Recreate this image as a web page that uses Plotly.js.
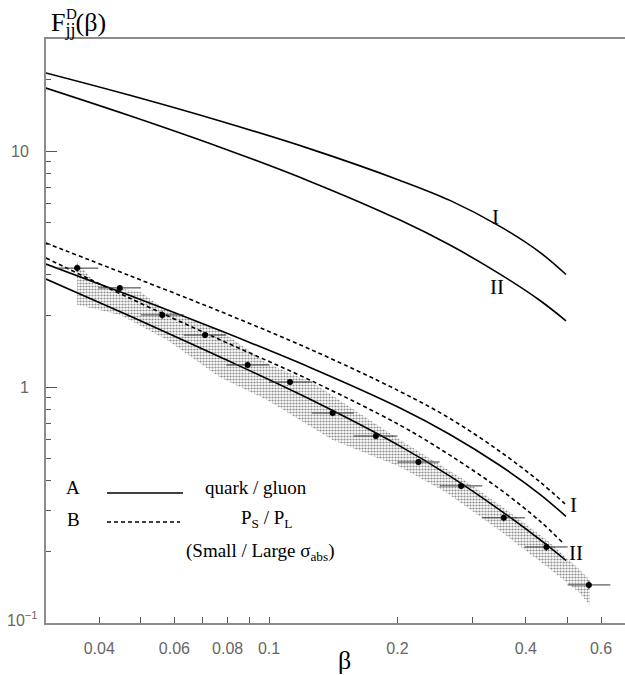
<!DOCTYPE html>
<html><head><meta charset="utf-8">
<script src="https://cdn.plot.ly/plotly-3.0.1.min.js"></script>
<style>body{margin:0;background:#fff}</style>
</head><body><div id="chart" style="width:625px;height:675px"></div>
<script>
// ---- data ----
const curveBeta  = [0.0300, 0.0472, 0.0768, 0.1248, 0.2028, 0.2655, 0.3478, 0.4316, 0.4967];
const topI_F     = [21.41, 17.22, 13.40, 10.21, 7.508, 6.177, 4.792, 3.719, 2.997];
const topII_F    = [18.49, 14.11, 10.38, 7.434, 5.096, 3.994, 3.008, 2.326, 1.908];
const solidI_F   = [3.320, 2.442, 1.734, 1.210, 0.8147, 0.6291, 0.4649, 0.3510, 0.2829];
const solidII_F  = [2.869, 1.999, 1.340, 0.8869, 0.5618, 0.4194, 0.3009, 0.2254, 0.1840];
const dashI_beta = [0.0300, 0.0472, 0.0768, 0.1248, 0.2028, 0.2655, 0.3478, 0.4316, 0.4941];
const dashI_F    = [4.076, 2.960, 2.091, 1.446, 0.9570, 0.7355, 0.5330, 0.3962, 0.3196];
const dashII_beta= [0.0300, 0.0472, 0.0768, 0.1248, 0.2028, 0.2655, 0.3478, 0.4316, 0.4861];
const dashII_F   = [3.521, 2.376, 1.586, 1.069, 0.6889, 0.5141, 0.3688, 0.2700, 0.2204];

const dataBeta   = [0.0355, 0.0447, 0.0562, 0.0708, 0.0891, 0.112, 0.141, 0.178, 0.224, 0.282, 0.355, 0.447, 0.562];
const dataF      = [3.19, 2.63, 2.02, 1.66, 1.24, 1.05, 0.776, 0.620, 0.481, 0.381, 0.279, 0.210, 0.145];
const dataErrF   = [0.12, 0.06, 0.08, 0.05, 0.04, 0.03, 0.025, 0.02, 0.015, 0.012, 0.01, 0.008, 0.006];
const binLow     = [0.0316, 0.0398, 0.0501, 0.0631, 0.0794, 0.100, 0.126, 0.158, 0.200, 0.251, 0.316, 0.398, 0.501];
const binHigh    = [0.0398, 0.0501, 0.0631, 0.0794, 0.100, 0.126, 0.158, 0.200, 0.251, 0.316, 0.398, 0.501, 0.631];

const bandUp_beta = [0.0355, 0.0395, 0.0499, 0.0565, 0.0767, 0.0989, 0.127, 0.203, 0.280, 0.353, 0.448, 0.535, 0.565];
const bandUp_F    = [3.39, 2.71, 2.53, 2.16, 1.74, 1.26, 1.04, 0.596, 0.416, 0.310, 0.225, 0.168, 0.152];
const bandLo_beta = [0.0355, 0.0448, 0.0577, 0.0767, 0.0989, 0.141, 0.203, 0.261, 0.353, 0.448, 0.535, 0.565];
const bandLo_F    = [2.23, 2.02, 1.58, 1.10, 0.881, 0.596, 0.458, 0.356, 0.241, 0.173, 0.134, 0.119];

const xTickVals = [0.04, 0.06, 0.08, 0.1, 0.2, 0.4, 0.6];
const xTickText = ['0.04', '0.06', '0.08', '0.1', '0.2', '0.4', '0.6'];
const xMinorVals = [0.05, 0.07, 0.09, 0.3, 0.5];
const yTickVals = [0.1, 1, 10];
const yTickText = ['', '1', '10'];
const yMinorVals = [0.2,0.3,0.4,0.5,0.6,0.7,0.8,0.9,2,3,4,5,6,7,8,9,20,30];

// ---- helpers (pixel -> paper for text placement) ----
const L = 46, T = 39, W = 579, H = 584;
const PX = p => (p - L) / W;
const PY = p => (T + H - p) / H;

const serif = 'Liberation Serif, Times New Roman, serif';
const sans = 'Liberation Sans, Arial, sans-serif';

function curve(x, y, dash) {
  return {x: x, y: y, type: 'scatter', mode: 'lines', hoverinfo: 'skip',
    line: {color: '#000', width: 1.6, dash: dash || 'solid', shape: 'spline', smoothing: 1}};
}

const traces = [
  {x: bandUp_beta.concat(bandLo_beta.slice().reverse()),
   y: bandUp_F.concat(bandLo_F.slice().reverse()),
   type: 'scatter', mode: 'lines', fill: 'toself', line: {width: 0, color: 'rgba(0,0,0,0)'},
   fillcolor: 'rgba(0,0,0,0)',
   fillpattern: {shape: '.', fgcolor: '#8c8c8c', bgcolor: 'rgba(255,255,255,0)', size: 3, solidity: 0.42},
   hoverinfo: 'skip'},
  curve(curveBeta, topI_F),
  curve(curveBeta, topII_F),
  curve(curveBeta, solidI_F),
  curve(curveBeta, solidII_F),
  curve(dashI_beta, dashI_F, '4px,3px'),
  curve(dashII_beta, dashII_F, '4px,3px'),
  {x: dataBeta, y: dataF, type: 'scatter', mode: 'markers',
   marker: {color: '#000', size: 6},
   error_x: {type: 'data', symmetric: false,
     array: dataBeta.map((b, i) => binHigh[i] - b),
     arrayminus: dataBeta.map((b, i) => b - binLow[i]),
     color: '#333', thickness: 1, width: 0},
   error_y: {type: 'data', array: dataErrF, color: '#333', thickness: 1, width: 0}}
];

const ann = (x, y, text, size, extra) => Object.assign({xref: 'paper', yref: 'paper', x: PX(x), y: PY(y),
  xanchor: 'center', yanchor: 'middle',
  text: text, showarrow: false, font: {family: serif, size: size, color: '#000'}}, extra || {});

const layout = {
  width: 625, height: 675,
  margin: {l: L, r: 0, t: T, b: 675 - T - H, pad: 0},
  paper_bgcolor: '#fff', plot_bgcolor: '#fff',
  showlegend: false,
  xaxis: {type: 'log', range: [-1.5227, -0.1656], showgrid: false, zeroline: false,
    showline: true, linecolor: '#8c8c8c', linewidth: 2, mirror: true,
    tickmode: 'array', tickvals: xTickVals, ticktext: xTickText,
    ticks: 'inside', ticklen: 6, tickwidth: 1, tickcolor: '#555',
    ticklabelstandoff: 10,
    tickfont: {family: sans, size: 16, color: '#666'},
    minor: {tickmode: 'array', tickvals: xMinorVals, ticks: 'inside', ticklen: 6, tickwidth: 1, tickcolor: '#555', showgrid: false}},
  xaxis2: {type: 'log', range: [-1.5227, -0.1656], overlaying: 'x', anchor: 'y', side: 'bottom',
    showgrid: false, zeroline: false, showline: false, showticklabels: false,
    tickmode: 'array', tickvals: [0.1], ticks: 'inside', ticklen: 11, tickwidth: 1, tickcolor: '#555'},
  yaxis: {type: 'log', range: [-1, 1.4746], showgrid: false, zeroline: false,
    showline: true, linecolor: '#8c8c8c', linewidth: 2, mirror: false,
    tickmode: 'array', tickvals: yTickVals, ticktext: yTickText,
    ticks: 'inside', ticklen: 11, tickwidth: 1, tickcolor: '#555',
    ticklabelstandoff: 12,
    tickfont: {family: sans, size: 16, color: '#666'},
    minor: {tickmode: 'array', tickvals: yMinorVals, ticks: 'inside', ticklen: 5, tickwidth: 1, tickcolor: '#555', showgrid: false}},
  shapes: [
    {type: 'line', xref: 'paper', yref: 'paper', x0: PX(107), x1: PX(183), y0: PY(493), y1: PY(493), line: {color: '#000', width: 1.6}},
    {type: 'line', xref: 'paper', yref: 'paper', x0: PX(107), x1: PX(180), y0: PY(522), y1: PY(522), line: {color: '#000', width: 1.4, dash: '4px,3px'}}
  ],
  annotations: [
    ann(49, 24, 'F<sub>jj</sub>(β)', 26, {xanchor: 'left'}),
    ann(71, 14, 'D', 15),
    ann(344, 660, 'β', 26),
    ann(22, 619, '10<sup>−1</sup>', 16, {font: {family: sans, size: 16, color: '#666'}}),
    ann(495, 217, 'I', 21),
    ann(497, 287, 'II', 21),
    ann(573, 505, 'I', 21),
    ann(576, 553, 'II', 21),
    ann(73, 487, 'A', 19),
    ann(73, 519, 'B', 19),
    ann(256, 487, 'quark / gluon', 19),
    ann(266, 519, 'P<sub>S</sub> / P<sub>L</sub>', 19),
    ann(260, 552, '(Small / Large σ<sub>abs</sub>)', 19)
  ]
};

Plotly.newPlot('chart', traces, layout, {staticPlot: true, displayModeBar: false});
</script>
</body></html>
